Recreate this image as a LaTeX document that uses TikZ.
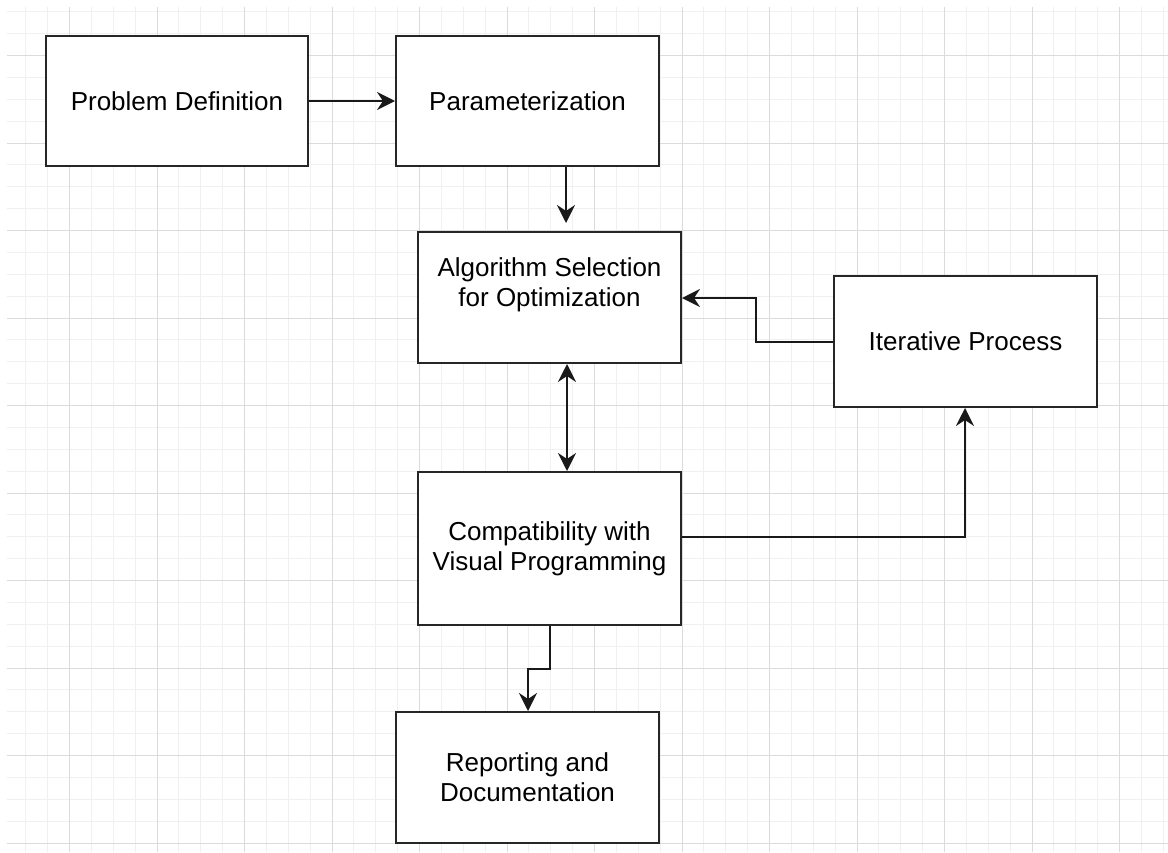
\documentclass[tikz,border=0pt]{standalone}
\usepackage{fontspec}
\setmainfont{Liberation Sans}
\usetikzlibrary{arrows.meta}
\pgfdeclarelayer{background}
\pgfdeclarelayer{foreground}
\pgfsetlayers{background,main,foreground}

\begin{document}
\begin{tikzpicture}[x=1pt,y=-1pt,
  >={Stealth[length=18pt,width=18pt,inset=6pt]},
  block/.style={draw=black!85,line width=2pt,fill=white,rectangle,align=center,
    inner sep=0pt,font=\fontsize{26}{30}\selectfont},
  arr/.style={draw=black!90,line width=2pt,->},
  minorline/.style={draw=gray!12,line width=1pt},
  majorline/.style={draw=gray!28,line width=1pt}]
\useasboundingbox (0,0) rectangle (1168,852);
\begin{pgfonlayer}{background}
\fill[white] (0,0) rectangle (1168,852);
\foreach \k in {-2,...,50} {
  \pgfmathsetmacro{\gx}{round(69+\k*21.875)+0.5}
  \draw[minorline] (\gx,7) -- (\gx,852);
}
\foreach \k in {-2,...,36} {
  \pgfmathsetmacro{\gy}{round(55+\k*21.875)+0.5}
  \draw[minorline] (7,\gy) -- (1168,\gy);
}
\foreach \k in {0,...,12} {
  \pgfmathsetmacro{\gx}{round(69+\k*87.5)+0.5}
  \draw[majorline] (\gx,7) -- (\gx,852);
}
\foreach \k in {0,...,9} {
  \pgfmathsetmacro{\gy}{round(55+\k*87.5)+0.5}
  \draw[majorline] (7,\gy) -- (1168,\gy);
}
\end{pgfonlayer}
\node[block,minimum width=262pt,minimum height=130pt] (prob) at (177,101) {Problem Definition};
\node[block,minimum width=263pt,minimum height=130pt] (param) at (527.5,101) {Parameterization};
\node[block,minimum width=263pt,minimum height=131pt] (algo) at (549.5,297.5) {Algorithm Selection\\for Optimization\\\mbox{}};
\node[block,minimum width=263pt,minimum height=131pt] (iter) at (965.5,341.5) {Iterative Process};
\node[block,minimum width=263pt,minimum height=153pt] (compat) at (549.5,548.5) {Compatibility with\\Visual Programming};
\node[block,minimum width=263pt,minimum height=131pt] (report) at (527.5,777.5) {Reporting and\\Documentation};
% connectors
\draw[arr] (prob.east) -- (param.west);
\draw[arr] ([xshift=38.5pt]param.south) -- ([xshift=16.5pt,yshift=8pt]algo.north);
\draw[arr,<->] ([xshift=17.5pt]algo.south) -- ([xshift=17.5pt]compat.north);
\draw[arr] (iter.west) -- ++(-77,0) |- ([yshift=-0.5pt]algo.east);
\draw[arr] ([yshift=11.5pt]compat.east) -| ([xshift=-0.5pt]iter.south);
\draw[arr] ([xshift=0.5pt]compat.south) -- ++(0,43) -| ([xshift=0.5pt]report.north);
\end{tikzpicture}
\end{document}
